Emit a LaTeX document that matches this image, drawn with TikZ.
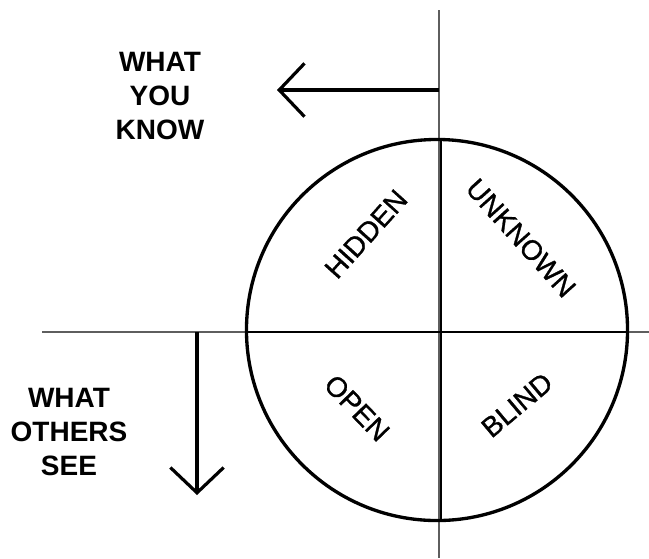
\documentclass[tikz,border=0pt]{standalone}
\usepackage{fontspec}
\setsansfont{Liberation Sans}
\newfontfamily\quadfont[FakeBold=1]{Liberation Sans}
\usetikzlibrary{arrows.meta}
\definecolor{axisc}{HTML}{5E5E5E}

\begin{document}
\begin{tikzpicture}[x=0.75pt,y=-0.75pt,font=\sffamily,
    axis/.style={axisc,line width=1.1pt},
    divider/.style={line width=2.1pt},
    pointer/.style={line width=2.4pt,-{Straight Barb[length=19pt,width=40pt]}},
    quad/.style={font=\quadfont\fontsize{21}{25}\selectfont,inner sep=0pt},
    caption/.style={font=\sffamily\bfseries\fontsize{21}{25.5}\selectfont,align=center,inner sep=0pt}]
  \useasboundingbox (0,0) rectangle (649,558);
  % axes
  \coordinate (vtop) at (439,10);
  \coordinate (vbot) at (439,558);
  \coordinate (hleft) at (42,332);
  \coordinate (hright) at (649,332);
  \draw[axis] (vtop) -- (vbot);
  \draw[axis] (hleft) -- (hright);
  % the window
  \node[draw,circle,line width=2.5pt,minimum size=285.8pt,inner sep=0pt] (window) at (437,330) {};
  \draw[divider] ([xshift=3pt]window.north) -- ([xshift=3pt]window.south);
  \draw[divider] ([yshift=-1.5pt]window.west) -- ([yshift=-1.5pt]window.east);
  \node[quad,rotate=48] (hidden) at (366,234) {HIDDEN};
  \node[quad,rotate=-48] (unknown) at (521,238) {UNKNOWN};
  \node[quad,rotate=-46] (open) at (357,408) {OPEN};
  \node[quad,rotate=40] (blind) at (517,405) {BLIND};
  % arrows
  \coordinate (knowfrom) at (439,90);
  \coordinate (knowto) at (277,90);
  \coordinate (seefrom) at (197,332);
  \coordinate (seeto) at (197,495);
  \draw[pointer] (knowfrom) -- (knowto);
  \draw[pointer] (seefrom) -- (seeto);
  \node[caption] (know) at (160,96) {WHAT\\YOU\\KNOW};
  \node[caption] (see) at (69,432) {WHAT\\OTHERS\\SEE};
\end{tikzpicture}
\end{document}
